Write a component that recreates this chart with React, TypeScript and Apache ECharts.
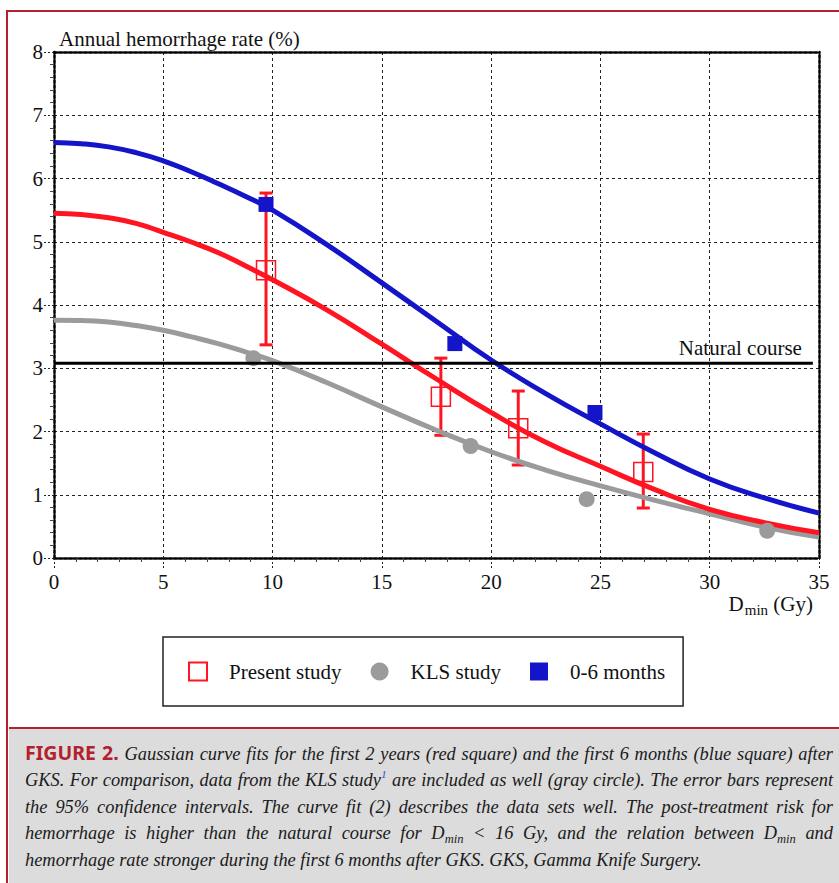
import React, { useEffect, useRef } from "react";
import * as echarts from "echarts";

// ---------- data ----------
const curveX = [0, 1.25, 2.5, 3.75, 5, 6.25, 7.5, 8.75, 10, 12.5, 15, 17.5, 20, 22.5, 25, 27.5, 30, 32.5, 35];
const curveRed = [5.45, 5.43, 5.38, 5.29, 5.15, 5.0, 4.83, 4.62, 4.4, 3.92, 3.38, 2.83, 2.3, 1.83, 1.45, 1.08, 0.77, 0.56, 0.4];
const curveBlue = [6.57, 6.55, 6.5, 6.41, 6.28, 6.11, 5.92, 5.72, 5.5, 4.95, 4.35, 3.74, 3.13, 2.6, 2.12, 1.66, 1.25, 0.95, 0.71];
const curveGray = [3.76, 3.755, 3.73, 3.675, 3.6, 3.5, 3.39, 3.26, 3.12, 2.77, 2.39, 2.02, 1.68, 1.39, 1.14, 0.91, 0.7, 0.49, 0.33];

const presentX = [9.7, 17.7, 21.24, 26.96];
const presentY = [4.55, 2.55, 2.05, 1.36];
const presentLow = [3.37, 1.94, 1.47, 0.79];
const presentHigh = [5.77, 3.16, 2.64, 1.96];

const klsX = [9.12, 19.06, 24.37, 32.63];
const klsY = [3.16, 1.77, 0.93, 0.43];

const earlyX = [9.7, 18.34, 24.75];
const earlyY = [5.59, 3.39, 2.3];

const naturalCourse = 3.08;
const naturalX = [0, 34.72];

const xMin = 0;
const xMax = 35;
const xInterval = 5;
const yMin = 0;
const yMax = 8;
const yInterval = 1;

const legendNames = ["Present study", "KLS study", "0-6 months"];

// ---------- styles ----------
const SERIF = "'Liberation Serif', 'Times New Roman', serif";
const RED = "#ff1422";
const BLUE = "#1414c8";
const GRAY = "#9b9b9b";
const FRAME = "#b3202e";
const DOT: number[] = [3, 2];

function fitSeries(name: string, color: string, ys: number[]) {
  return {
    name,
    type: "line",
    z: 3,
    smooth: 0.5,
    showSymbol: false,
    lineStyle: { color, width: 5 },
    itemStyle: { color },
    data: curveX.map((x, i) => [x, ys[i]]),
  };
}

function buildOption(): any {
  const axisLineStyle = { color: "#000", width: 2.5, type: DOT };
  const splitLineStyle = { color: "#222", width: 1, type: [3, 3] };
  return {
    animation: false,
    grid: { left: 54, right: 20, top: 52, bottom: 325, containLabel: false, outerBoundsMode: "none" },
    legend: {
      left: 163,
      top: 637,
      orient: "horizontal",
      padding: [24, 18, 24, 25],
      borderColor: "#222",
      borderWidth: 1.5,
      backgroundColor: "#fff",
      itemWidth: 18,
      itemHeight: 18,
      itemGap: 29,
      textStyle: { fontFamily: SERIF, fontSize: 21, color: "#111", padding: [0, 0, 0, 17] },
      data: [
        { name: legendNames[0], icon: "rect", itemStyle: { color: "rgba(0,0,0,0)", borderColor: RED, borderWidth: 2 } },
        { name: legendNames[1], icon: "circle" },
        { name: legendNames[2], icon: "rect" },
      ],
    },
    xAxis: [
      {
        type: "value",
        min: xMin,
        max: xMax,
        interval: xInterval,
        position: "bottom",
        name: "{d|D}{s|min}{g| (Gy)}",
        nameLocation: "end",
        nameGap: -6,
        nameMoveOverlap: false,
        nameTextStyle: {
          align: "right",
          verticalAlign: "top",
          padding: [35, 0, 0, 0],
          rich: {
            d: { fontFamily: SERIF, fontSize: 21, color: "#111", lineHeight: 24, verticalAlign: "top" },
            s: { fontFamily: SERIF, fontSize: 15, color: "#111", lineHeight: 14, verticalAlign: "bottom", padding: [16, 0, 0, 1] },
            g: { fontFamily: SERIF, fontSize: 21, color: "#111", lineHeight: 24, verticalAlign: "top" },
          },
        },
        axisLine: { show: true, onZero: false, lineStyle: axisLineStyle },
        axisTick: { show: true, length: 10, lineStyle: { color: "#222", width: 1, type: [2, 2] } },
        minorTick: { show: true, splitNumber: 5, length: 4, lineStyle: { color: "#444", width: 1 } },
        axisLabel: { fontFamily: SERIF, fontSize: 21, color: "#111", margin: 13 },
        splitLine: { show: true, lineStyle: splitLineStyle },
      },
      {
        type: "value",
        min: xMin,
        max: xMax,
        interval: xInterval,
        position: "top",
        axisLine: { show: true, onZero: false, lineStyle: axisLineStyle },
        axisTick: { show: false },
        axisLabel: { show: false },
        splitLine: { show: false },
      },
    ],
    yAxis: [
      {
        type: "value",
        min: yMin,
        max: yMax,
        interval: yInterval,
        position: "left",
        name: "Annual hemorrhage rate (%)",
        nameLocation: "end",
        nameGap: 3,
        nameMoveOverlap: false,
        nameTextStyle: {
          fontFamily: SERIF,
          fontSize: 21,
          color: "#111",
          align: "left",
          verticalAlign: "bottom",
          padding: [0, 0, 0, 5],
        },
        axisLine: { show: true, onZero: false, lineStyle: axisLineStyle },
        axisTick: { show: true, length: 12, lineStyle: { color: "#222", width: 1, type: [2, 2] } },
        minorTick: { show: true, splitNumber: 5, length: 4, lineStyle: { color: "#444", width: 1 } },
        axisLabel: { fontFamily: SERIF, fontSize: 21, color: "#111", margin: 11 },
        splitLine: { show: true, lineStyle: splitLineStyle },
      },
      {
        type: "value",
        min: yMin,
        max: yMax,
        interval: yInterval,
        position: "right",
        axisLine: { show: true, onZero: false, lineStyle: axisLineStyle },
        axisTick: { show: false },
        axisLabel: { show: false },
        splitLine: { show: false },
      },
    ],
    series: [
      {
        name: "ci",
        type: "custom",
        z: 2,
        encode: { x: 0, y: [1, 2] },
        data: presentX.map((x, i) => [x, presentLow[i], presentHigh[i]]),
        renderItem: (_params: any, api: any) => {
          const x = api.value(0);
          const lo = api.value(1);
          const hi = api.value(2);
          const pTop = api.coord([x, hi]);
          const pBot = api.coord([x, lo]);
          const w = 6.5;
          const style = { stroke: RED, lineWidth: 3 };
          return {
            type: "group",
            children: [
              { type: "line", shape: { x1: pTop[0], y1: pTop[1], x2: pBot[0], y2: pBot[1] }, style },
              { type: "line", shape: { x1: pTop[0] - w, y1: pTop[1], x2: pTop[0] + w, y2: pTop[1] }, style },
              { type: "line", shape: { x1: pBot[0] - w, y1: pBot[1], x2: pBot[0] + w, y2: pBot[1] }, style },
            ],
          };
        },
      },
      fitSeries("fit-gray", GRAY, curveGray),
      fitSeries("fit-red", RED, curveRed),
      fitSeries("fit-blue", BLUE, curveBlue),
      {
        name: legendNames[0],
        type: "scatter",
        z: 4,
        symbol: "rect",
        symbolSize: 19,
        itemStyle: { color: "rgba(0,0,0,0)", borderColor: RED, borderWidth: 1.5, opacity: 1 },
        data: presentX.map((x, i) => [x, presentY[i]]),
      },
      {
        name: legendNames[1],
        type: "scatter",
        z: 4,
        symbol: "circle",
        symbolSize: 16,
        itemStyle: { color: GRAY, opacity: 1 },
        data: klsX.map((x, i) => [x, klsY[i]]),
      },
      {
        name: legendNames[2],
        type: "scatter",
        z: 4,
        symbol: "rect",
        symbolSize: 15,
        itemStyle: { color: BLUE, opacity: 1 },
        data: earlyX.map((x, i) => [x, earlyY[i]]),
      },
      {
        name: "natural",
        type: "line",
        z: 5,
        showSymbol: true,
        symbol: "circle",
        symbolSize: 0,
        lineStyle: { color: "#000", width: 3 },
        itemStyle: { color: "#000" },
        data: [
          [naturalX[0], naturalCourse],
          {
            value: [naturalX[1], naturalCourse],
            label: {
              show: true,
              formatter: "Natural course",
              position: [-11, -15],
              align: "right",
              verticalAlign: "middle",
              fontFamily: SERIF,
              fontSize: 21,
              color: "#111",
            },
          },
        ],
      },
    ],
  };
}

const captionLine: React.CSSProperties = {
  position: "absolute",
  left: 16.5,
  width: 808,
  height: 26,
  lineHeight: "26px",
  whiteSpace: "nowrap",
  textAlign: "justify",
  textAlignLast: "justify" as any,
  fontFamily: SERIF,
  fontStyle: "italic",
  fontSize: 18.4,
  color: "#1a1a1a",
};

const subStyle: React.CSSProperties = { fontSize: "0.68em", verticalAlign: "-0.3em", lineHeight: 0 };

export default function App() {
  const ref = useRef<HTMLDivElement>(null);
  useEffect(() => {
    if (!ref.current) return;
    const chart = echarts.init(ref.current, null, { renderer: "svg" });
    chart.setOption(buildOption());
    return () => chart.dispose();
  }, []);

  return (
    <div style={{ position: "absolute", left: 0, top: 0, width: 839, height: 883, overflow: "hidden", background: "#fff" }}>
      <div ref={ref} style={{ position: "absolute", left: 0, top: 0, width: 839, height: 883 }} />
      <div
        style={{
          position: "absolute",
          left: 6,
          top: 10,
          width: 850,
          height: 890,
          borderTop: `2.5px solid ${FRAME}`,
          borderLeft: `2.5px solid ${FRAME}`,
          boxSizing: "border-box",
          pointerEvents: "none",
        }}
      />
      <div
        style={{
          position: "absolute",
          left: 8.5,
          top: 727,
          width: 840,
          height: 160,
          background: "#dcdcdc",
          borderTop: `2.5px solid ${FRAME}`,
          boxSizing: "border-box",
        }}
      >
        <div style={{ ...captionLine, top: 10.5 }}>
          <span style={{ fontFamily: "'Noto Sans', 'Open Sans', sans-serif", fontStyle: "normal", fontWeight: 700, color: FRAME, fontSize: 19.5 }}>
            FIGURE 2.
          </span>{" "}
          Gaussian curve fits for the first 2 years (red square) and the first 6 months (blue square) after
        </div>
        <div style={{ ...captionLine, top: 37.5 }}>
          GKS. For comparison, data from the KLS study
          <span style={{ fontSize: "0.62em", verticalAlign: "0.7em", lineHeight: 0, color: "#3050c0" }}>1</span> are included as well (gray
          circle). The error bars represent
        </div>
        <div style={{ ...captionLine, top: 64.5 }}>
          the 95% confidence intervals. The curve fit (2) describes the data sets well. The post-treatment risk for
        </div>
        <div style={{ ...captionLine, top: 90.5 }}>
          hemorrhage is higher than the natural course for D<span style={subStyle}>min</span> &lt; 16 Gy, and the relation between D
          <span style={subStyle}>min</span> and
        </div>
        <div style={{ ...captionLine, top: 117.5, textAlignLast: "left" as any }}>
          hemorrhage rate stronger during the first 6 months after GKS. GKS, Gamma Knife Surgery.
        </div>
      </div>
    </div>
  );
}
